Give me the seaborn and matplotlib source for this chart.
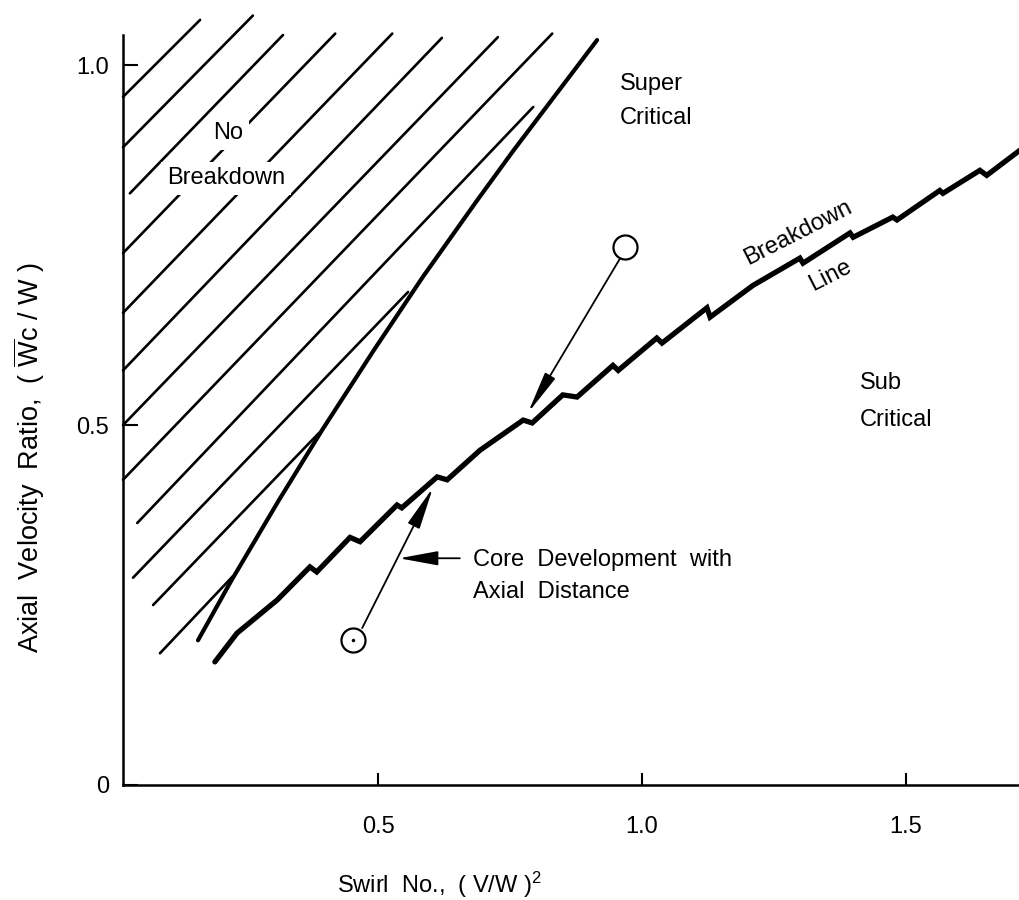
import numpy as np
import pandas as pd
import matplotlib
matplotlib.use("Agg")
import matplotlib.pyplot as plt
import seaborn as sns

# --- Breakdown line (stepped curve) ---
bd_x = [0.191, 0.233, 0.309, 0.371, 0.384, 0.447, 0.466, 0.536, 0.545, 0.612,
        0.631, 0.693, 0.775, 0.792, 0.850, 0.877, 0.945, 0.955, 1.028, 1.038,
        1.123, 1.129, 1.210, 1.299, 1.305, 1.394, 1.400, 1.475, 1.483, 1.564,
        1.570, 1.640, 1.653, 1.716]
bd_y = [0.171, 0.211, 0.257, 0.303, 0.296, 0.344, 0.338, 0.389, 0.385, 0.428,
        0.424, 0.465, 0.507, 0.503, 0.542, 0.539, 0.583, 0.576, 0.621, 0.614,
        0.663, 0.650, 0.694, 0.732, 0.725, 0.767, 0.761, 0.789, 0.785, 0.826,
        0.822, 0.854, 0.847, 0.882]

# --- Steep boundary of the No Breakdown region ---
st_x = [0.159, 0.223, 0.3125, 0.394, 0.492, 0.585, 0.688, 0.757, 0.915]
st_y = [0.201, 0.285, 0.396, 0.493, 0.604, 0.706, 0.8125, 0.882, 1.035]

# --- Hatch lines (start / end of each stroke) ---
hatch_x0 = [0.017, 0.017, 0.030, 0.017, 0.017, 0.017, 0.017, 0.017, 0.044, 0.036, 0.074, 0.087]
hatch_y0 = [0.956, 0.886, 0.822, 0.739, 0.656, 0.576, 0.500, 0.424, 0.364, 0.288, 0.250, 0.183]
hatch_x1 = [0.163, 0.263, 0.320, 0.419, 0.527, 0.621, 0.727, 0.830, 0.794, 0.557, 0.388, 0.225]
hatch_y1 = [1.063, 1.069, 1.042, 1.044, 1.044, 1.038, 1.039, 1.044, 0.942, 0.685, 0.489, 0.290]

# --- Circles marking core states ---
circ_x = [0.968, 0.453]
circ_y = [0.747, 0.201]

xticks = [0.5, 1.0, 1.5]
xticklabels = ['0.5', '1.0', '1.5']
yticks = [0, 0.5, 1.0]
yticklabels = ['0', '0.5', '1.0']

sns.set_style("ticks")
plt.rcParams['font.family'] = ['Liberation Sans', 'DejaVu Sans']
plt.rcParams['mathtext.fontset'] = 'custom'
plt.rcParams['mathtext.rm'] = 'Liberation Sans'
plt.rcParams['mathtext.it'] = 'Liberation Sans:italic'
for k in ['text.color', 'axes.labelcolor', 'xtick.color', 'ytick.color', 'axes.edgecolor']:
    plt.rcParams[k] = 'black'

fig = plt.figure(figsize=(10.2, 9), dpi=100)
ax = fig.add_axes([0.1206, 0.1278, 0.8794, 0.8333])

# hatch lines in long format
hatch = []
for i in range(len(hatch_x0)):
    hatch.append([i, hatch_x0[i], hatch_y0[i]])
    hatch.append([i, hatch_x1[i], hatch_y1[i]])
hatch = pd.DataFrame(hatch, columns=["line", "x", "y"])

sns.lineplot(data=hatch, x="x", y="y", units="line", estimator=None, sort=False,
             color="black", lw=1.9, legend=False, clip_on=False, ax=ax)

sns.lineplot(x=st_x, y=st_y, sort=False, estimator=None, color="black",
             lw=3.0, ax=ax, clip_on=False)
sns.lineplot(x=bd_x, y=bd_y, sort=False, estimator=None, color="black",
             lw=3.8, ax=ax, clip_on=False, solid_joinstyle="miter")

# arrows from circles to the breakdown line
ax.annotate("", xy=(0.784, 0.517), xytext=(0.958, 0.731),
            arrowprops=dict(arrowstyle="-|>,head_length=1.3,head_width=0.18",
                            mutation_scale=20, lw=1.3, color="black",
                            shrinkA=0, shrinkB=0))
ax.annotate("", xy=(0.604, 0.413), xytext=(0.470, 0.218),
            arrowprops=dict(arrowstyle="-|>,head_length=1.3,head_width=0.2",
                            mutation_scale=20, lw=1.3, color="black",
                            shrinkA=0, shrinkB=0))
ax.annotate("", xy=(0.540, 0.315), xytext=(0.655, 0.315),
            arrowprops=dict(arrowstyle="-|>,head_length=1.2,head_width=0.22",
                            mutation_scale=20, lw=1.3, color="black",
                            shrinkA=0, shrinkB=0))

sns.scatterplot(x=circ_x, y=circ_y, s=300, facecolor="white", edgecolor="black",
                linewidth=1.6, zorder=6, ax=ax)
ax.plot(circ_x[1], circ_y[1], 'k.', ms=3, zorder=7)

# region labels
fs = 17
box = dict(facecolor="white", edgecolor="none", pad=4)
ax.text(0.216, 0.906, "No", ha="center", va="center", fontsize=fs, bbox=box, zorder=4)
ax.text(0.212, 0.843, "Breakdown", ha="center", va="center", fontsize=fs, bbox=box, zorder=4)
ax.text(0.958, 0.974, "Super", ha="left", va="center", fontsize=fs)
ax.text(0.958, 0.926, "Critical", ha="left", va="center", fontsize=fs)
ax.text(1.413, 0.558, "Sub", ha="left", va="center", fontsize=fs)
ax.text(1.413, 0.507, "Critical", ha="left", va="center", fontsize=fs)
ax.text(1.295, 0.767, "Breakdown", ha="center", va="center", fontsize=fs,
        rotation=27, rotation_mode="anchor")
ax.text(1.356, 0.708, "Line", ha="center", va="center", fontsize=fs,
        rotation=27, rotation_mode="anchor")
ax.text(0.680, 0.3125, "Core  Development  with", ha="left", va="center", fontsize=fs)
ax.text(0.680, 0.268, "Axial  Distance", ha="left", va="center", fontsize=fs)

# axes
ax.set_xlim(0.017, 1.716)
ax.set_ylim(0, 1.042)
ax.set_xticks(xticks)
ax.set_xticklabels(xticklabels, fontsize=17)
ax.set_yticks(yticks)
ax.set_yticklabels(yticklabels, fontsize=17)
ax.tick_params(axis="x", direction="in", length=9, width=1.5, pad=22)
ax.tick_params(axis="y", direction="in", length=11, width=1.5, pad=10)

ax.set_xlabel(r"Swirl  No.,  ( V/W )$^2$", fontsize=17)
ax.xaxis.set_label_coords(0.353, -0.113)
ax.set_ylabel(r"Axial  Velocity  Ratio,  ( $\overline{\mathrm{W}}$c / W )", fontsize=19.5)
ax.yaxis.set_label_coords(-0.085, 0.437)

sns.despine(ax=ax, top=True, right=True)
for sp in ["left", "bottom"]:
    ax.spines[sp].set_linewidth(1.8)

plt.savefig("out.png", dpi=100)
